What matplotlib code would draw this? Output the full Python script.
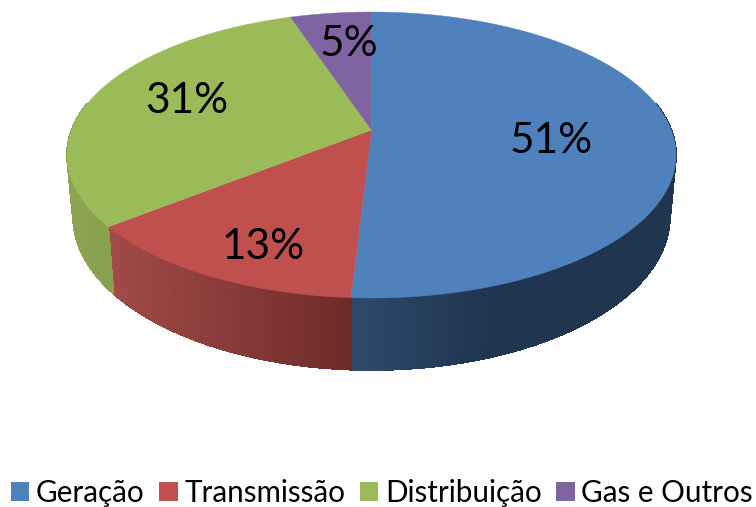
import numpy as np
import matplotlib
matplotlib.use("Agg")
import matplotlib.pyplot as plt
from matplotlib.patches import Patch
from matplotlib.colors import to_rgb

categories = ["Geração", "Transmissão", "Distribuição", "Gas e Outros"]
values = [50.9, 13.4, 30.6, 5.1]
colors = ["#4f81bd", "#c0504d", "#9bbb59", "#8064a2"]

# side-wall shading: (screen x, colour) stops for each slice
wall_stops = [
    [(350, "#2e4a6d"), (490, "#1f3550"), (680, "#1f3550")],
    [(105, "#a34b48"), (350, "#6e2b2a")],
    [(65, "#8ba552"), (115, "#86a04e")],
    [(290, "#604b7a"), (372, "#604b7a")],
]

CX, CY, RX, RY = 371.5, 155.0, 304.5, 143.0
B = 0.175          # perspective shift of the pie centre
D0, DK = 61.5, 10.5  # wall depth
SHR = 0.98         # lower rim narrowing


def project(u, v):
    """Unit disc -> normalised ellipse coordinates under perspective."""
    den = 1 + B * v
    return u * np.sqrt(1 - B * B) / den, (v + B) / den


def top_xy(theta, r=1.0):
    X, Y = project(r * np.sin(theta), r * np.cos(theta))
    return CX + RX * X, CY - RY * Y


def bottom_xy(theta):
    X, Y = project(np.sin(theta), np.cos(theta))
    return CX + RX * SHR * X, CY - RY * Y + D0 - DK * Y


fig = plt.figure(figsize=(7.56, 5.07), dpi=100)
ax = fig.add_axes([0, 0, 1, 1])
ax.set_xlim(0, 756)
ax.set_ylim(507, 0)
ax.axis("off")

fractions = np.array(values) / sum(values)
edges = np.concatenate([[0], np.cumsum(fractions)]) * 2 * np.pi

# side walls
for i in range(len(values)):
    a0, a1 = edges[i], edges[i + 1]
    th = np.linspace(a0, a1, max(int((a1 - a0) * 60), 4) + 1)
    xs = [s[0] for s in wall_stops[i]]
    cs = np.array([to_rgb(s[1]) for s in wall_stops[i]])
    for t0, t1 in zip(th[:-1], th[1:]):
        tm = 0.5 * (t0 + t1)
        if np.cos(tm) > 0.2:
            continue
        xt0, yt0 = top_xy(t0)
        xt1, yt1 = top_xy(t1)
        xb0, yb0 = bottom_xy(t0)
        xb1, yb1 = bottom_xy(t1)
        xm = 0.25 * (xt0 + xt1 + xb0 + xb1)
        c = [np.interp(xm, xs, cs[:, k]) for k in range(3)]
        ax.fill([xt0, xt1, xb1, xb0], [yt0, yt1, yb1, yb0],
                facecolor=c, edgecolor=c, lw=0.6, antialiased=False, zorder=2)

# top surface
for i in range(len(values)):
    th = np.linspace(edges[i], edges[i + 1], 200)
    x, y = top_xy(th)
    px, py = top_xy(0.0, 0.0)
    ax.fill(np.r_[px, x], np.r_[py, y], facecolor=colors[i],
            edgecolor=colors[i], lw=0.3, zorder=3)

# percentage labels
label_pos = [(551, 141), (263, 247), (187, 101), (349, 44)]
for v, (lx, ly) in zip(values, label_pos):
    ax.text(lx, ly, f"{round(v)}%", ha="center", va="center", fontsize=30.5,
            family="Lato", color="black", zorder=4)

handles = [Patch(facecolor=c, edgecolor="none") for c in colors]
ax.legend(handles, categories, loc="lower left", bbox_to_anchor=(11 / 756, 0 / 507),
          bbox_transform=fig.transFigure, ncol=4, frameon=False, borderpad=0,
          borderaxespad=0, prop={"family": "Lato", "size": 21.3},
          handlelength=0.62, handleheight=0.62, handletextpad=0.22,
          columnspacing=0.5, labelspacing=0)

fig.savefig("out.png", dpi=100)
